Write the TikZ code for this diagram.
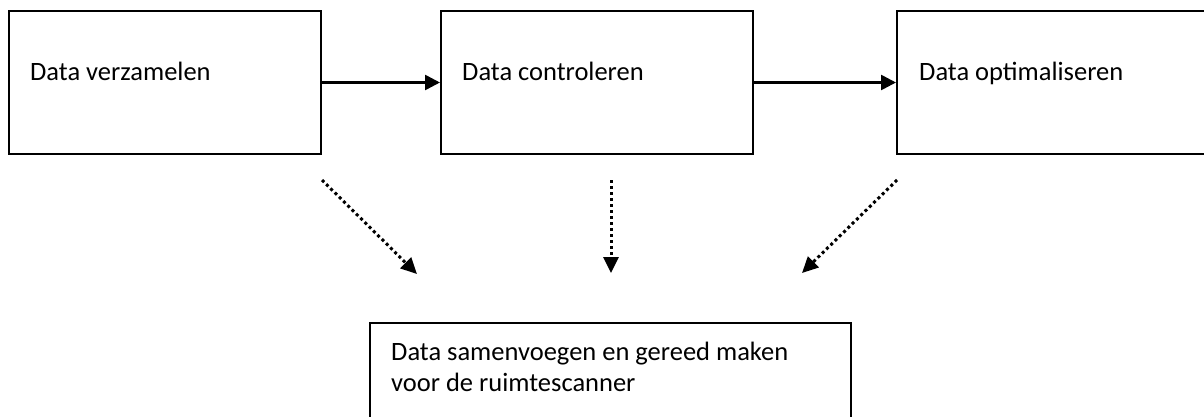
\documentclass[tikz,border=0pt]{standalone}
\usepackage{fontspec}
\setmainfont{Carlito}
\usetikzlibrary{arrows.meta}
\begin{document}
\begin{tikzpicture}[x=1pt,y=-1pt,
  box/.style={draw=black, line width=2pt, inner sep=0pt, minimum height=143pt},
  lbl/.style={anchor=base west, inner sep=0pt, font=\fontsize{26.5}{32.3}\selectfont, text=black},
  flow/.style={line width=2.6pt, -{Triangle[length=15pt,width=15pt]}},
  dotarrow/.style={line width=3pt, dash pattern=on 3pt off 3pt, -{Triangle[length=16pt,width=15pt]}}]
\clip (0,0) rectangle (1204,416);
\fill[white] (0,0) rectangle (1204,416);
% boxes
\node[box, minimum width=312pt] (b1) at (165,82.5) {};
\node[box, minimum width=312pt] (b2) at (597,82.5) {};
\node[box, minimum width=313pt] (b3) at (1053.5,82.5) {};
\node[box, minimum width=481pt] (b4) at (610.5,394.5) {};
% labels
\node[lbl] (t1) at (30,80) {Data verzamelen};
\node[lbl] (t2) at (462,80) {Data controleren};
\node[lbl] (t3) at (919,80) {Data optimaliseren};
\node[lbl] (t4a) at (391,360) {Data samenvoegen en gereed maken};
\node[lbl] (t4b) at (391,391) {voor de ruimtescanner};
% solid connectors
\draw[flow] (b1.east) -- (b2.west);
\draw[flow] (b2.east) -- (b3.west);
% dotted arrows
\coordinate (d1s) at (322,180); \coordinate (d1e) at (417,274);
\coordinate (d2s) at (611,180); \coordinate (d2e) at (611,273);
\coordinate (d3s) at (897,180); \coordinate (d3e) at (802,273);
\draw[dotarrow] (d1s) -- (d1e);
\draw[dotarrow] (d2s) -- (d2e);
\draw[dotarrow] (d3s) -- (d3e);
\end{tikzpicture}
\end{document}
